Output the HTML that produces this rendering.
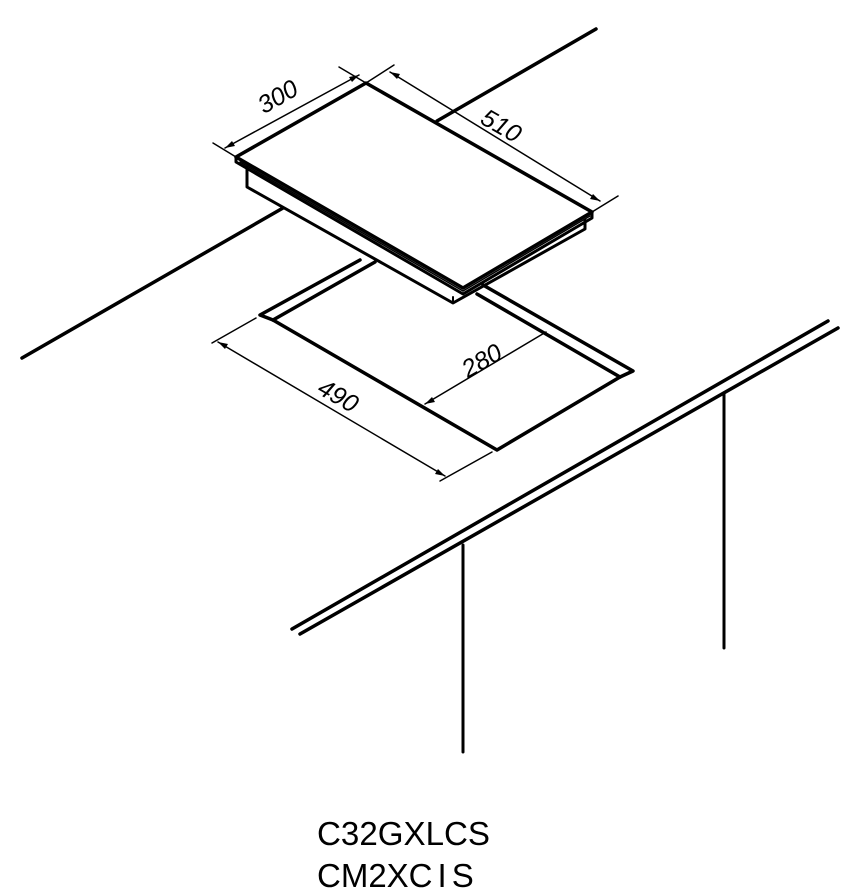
<!DOCTYPE html>
<html><head><meta charset="utf-8"><style>
html,body{margin:0;padding:0;background:#fff;}
svg{display:block;}
</style></head><body>
<svg width="847" height="894" viewBox="0 0 847 894" xmlns="http://www.w3.org/2000/svg">
<g stroke="#000" fill="none" stroke-linecap="round" stroke-linejoin="round">
<line x1="22" y1="358" x2="283" y2="208" stroke-width="3.5"/>
<line x1="437" y1="121" x2="596" y2="29" stroke-width="3.5"/>
<polygon points="236,157 366,83 592,212 463,288" stroke-width="3.5" fill="#fff"/>
<polyline points="236,157 236,162 463,294 592,218 592,212" stroke-width="3"/>
<line x1="240" y1="162" x2="463" y2="291" stroke-width="1.5"/>
<line x1="463" y1="291" x2="590" y2="216" stroke-width="1.5"/>
<polyline points="247,167 247,187 453,303 585,229 585,220" stroke-width="3"/>
<line x1="453" y1="297" x2="453" y2="303" stroke-width="2"/>
<polyline points="360,260 260,315 273,320 497,450 620,377 633,371 483,285" stroke-width="3.5"/>
<line x1="273" y1="320" x2="375" y2="262" stroke-width="3.5"/>
<line x1="620" y1="377" x2="477" y2="294" stroke-width="3.5"/>
<line x1="292" y1="629" x2="828" y2="321" stroke-width="3.5"/>
<line x1="300" y1="634" x2="838" y2="328" stroke-width="3.5"/>
<line x1="463" y1="545" x2="463" y2="752" stroke-width="3"/>
<line x1="724" y1="393" x2="724" y2="648" stroke-width="3"/>
<g stroke-width="1.5">
<line x1="213" y1="143" x2="236" y2="157"/>
<line x1="339" y1="67" x2="366" y2="83"/>
<line x1="225" y1="148" x2="359" y2="75"/>
<line x1="394" y1="65" x2="366" y2="83"/>
<line x1="618" y1="196" x2="592" y2="212"/>
<line x1="390" y1="72" x2="600" y2="201"/>
<line x1="212" y1="343" x2="256" y2="318"/>
<line x1="440" y1="481" x2="492" y2="452"/>
<line x1="218" y1="342" x2="445" y2="476"/>
<line x1="425" y1="404" x2="546" y2="332"/>
</g>
<g fill="#000" stroke="none">
<polygon points="359,75 349,77 352,82"/>
<polygon points="225,148 235,146 232,141"/>
<polygon points="390,72 397,79 400,74"/>
<polygon points="600,201 593,194 590,199"/>
<polygon points="218,342 225,349 228,344"/>
<polygon points="445,476 438,469 435,474"/>
<polygon points="425,404 435,402 432,397"/>
</g>
</g>
<g font-family="'Liberation Sans', sans-serif" font-size="25" fill="#000">
<text x="0" y="0" transform="translate(282,104) rotate(-30)" text-anchor="middle" font-style="italic">300</text>
<text x="0" y="0" transform="translate(497,133) rotate(30)" text-anchor="middle" font-style="italic">510</text>
<text x="0" y="0" transform="translate(486,368) rotate(-30)" text-anchor="middle" font-style="italic">280</text>
<text x="0" y="0" transform="translate(334,403) rotate(30)" text-anchor="middle" font-style="italic">490</text>
</g>
<g font-family="'Liberation Sans', sans-serif" font-size="33" fill="#000">
<text x="317" y="845" textLength="173" lengthAdjust="spacingAndGlyphs">C32GXLCS</text>
<text x="317" y="887">CM2XC<tspan dx="5">I</tspan><tspan dx="5">S</tspan></text>
</g>
</svg>
</body></html>
